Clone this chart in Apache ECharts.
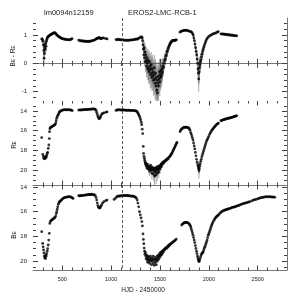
<!DOCTYPE html>
<html><head><meta charset="utf-8">
<script src="https://cdn.jsdelivr.net/npm/echarts@6/dist/echarts.min.js"></script>
<style>html,body{margin:0;padding:0;background:#fff}#c{width:304px;height:304px}</style>
</head><body><div id="c"></div>
<script>
// ---- tick values ----
const xMajor = [500, 1000, 1500, 2000, 2500];
const xMinor = [300,400,600,700,800,900,1100,1200,1300,1400,1600,1700,1800,1900,2100,2200,2300,2400,2600,2700];
const colorMajor = [-1, 0, 1];
const colorMinor = [-1.2,-0.8,-0.6,-0.4,-0.2,0.2,0.4,0.6,0.8,1.2,1.4];
const magMajor = [14, 16, 18, 20];
const redMinor = [13.5,14.5,15,15.5,16.5,17,17.5,18.5,19,19.5,20.5,21];
const blueMinor = [14.5,15,15.5,16.5,17,17.5,18.5,19,19.5,20.5];
const markerHJD = 1111;

// ---- panel 1: B_E - R_E colour  [HJD, colour, error] ----
const colorCurve = [
[289,0.86],[296,0.84,0.08],[302,0.78,0.15],[306,0.65,0.2],[310,0.45,0.25],[313,0.18,0.3],[316,0.35,0.25],[319,0.55,0.2],[322,0.62,0.2],[326,0.5,0.2],[330,0.7,0.15],[334,0.6,0.2],[338,0.78,0.12],[342,0.85,0.1],[347,0.9,0.08],[352,0.93,0.06],[358,0.95],[364,0.97],[370,0.99],[377,1.0],[384,1.02],[391,1.03],[398,1.05],[405,1.06],[412,1.07],[419,1.08],[426,1.07],[433,1.05],[440,1.02],[447,0.99],[454,0.97],[461,0.95],[468,0.93],[476,0.92],[484,0.9],[492,0.88],[500,0.87],[510,0.86],[520,0.85],[530,0.85],[540,0.84],[550,0.84],[560,0.83],[570,0.84],[580,0.83],[590,0.85],[600,0.87],
[668,0.82],[678,0.8],[688,0.79],[698,0.8],[708,0.78],[718,0.79],[728,0.78],[738,0.77],[748,0.78],[758,0.77],[768,0.78],[778,0.77],[788,0.78],[798,0.79],[808,0.8],[818,0.81],[828,0.82],[838,0.84],[846,0.86],[852,0.87],[858,0.88],[864,0.89],[870,0.9],[876,0.91],[882,0.9],[888,0.88],[895,0.87],[903,0.88],[912,0.9],[925,0.89],[945,0.87],[958,0.86],
[1050,0.84],[1060,0.83],[1070,0.85],[1080,0.84],[1090,0.83],[1100,0.84],[1110,0.82],[1120,0.83],[1130,0.82],[1140,0.81],[1150,0.82],[1160,0.81],[1170,0.82],[1180,0.81],[1190,0.82],[1200,0.83],[1210,0.82],[1220,0.83],[1230,0.84],[1240,0.84],[1250,0.85],[1260,0.86],[1270,0.85],[1280,0.88],[1290,0.9],[1300,0.92],[1310,0.93],[1318,0.9,0.08],
[1322,0.8,0.15],[1326,0.65,0.2],[1330,0.5,0.25],[1334,0.3,0.3],[1338,0.55,0.25],[1342,0.2,0.3],[1346,0.4,0.3],[1350,0.05,0.35],[1354,0.3,0.3],[1358,0.1,0.35],[1362,-0.1,0.4],[1366,0.2,0.35],[1370,0.0,0.4],[1374,-0.2,0.4],[1378,0.1,0.4],[1382,-0.15,0.45],[1386,-0.3,0.45],[1390,0.05,0.4],[1394,-0.25,0.45],[1398,-0.1,0.45],[1402,-0.4,0.5],[1406,-0.2,0.45],[1410,-0.05,0.45],[1414,-0.35,0.5],[1418,-0.5,0.5],[1422,-0.2,0.5],[1426,-0.45,0.5],[1430,-0.3,0.5],[1434,-0.6,0.55],[1438,-0.4,0.5],[1442,-0.15,0.45],[1446,-0.55,0.55],[1450,-0.7,0.55],[1454,-0.35,0.5],[1458,-0.8,0.6],[1462,-0.5,0.55],[1466,-0.95,0.6],[1470,-0.6,0.55],[1474,-1.05,0.6],[1478,-0.7,0.55],[1482,-0.45,0.5],[1486,-0.8,0.55],[1490,-0.55,0.5],[1494,-0.3,0.45],[1498,-0.65,0.5],[1502,-0.4,0.45],[1506,-0.5,0.45],[1510,-0.25,0.4],[1514,-0.45,0.4],[1518,-0.35,0.4],[1522,-0.2,0.35],[1526,-0.3,0.35],[1530,-0.1,0.3],[1536,-0.15,0.3],[1542,0.0,0.25],[1548,0.1,0.25],[1554,0.15,0.22],[1560,0.25,0.2],[1566,0.3,0.2],[1572,0.4,0.18],[1578,0.45,0.15],[1584,0.52,0.15],[1590,0.58,0.13],[1596,0.63,0.12],[1602,0.68,0.1],[1608,0.72,0.1],[1614,0.75,0.08],[1620,0.77,0.08],[1626,0.79,0.07],[1632,0.8,0.06],[1638,0.81],[1644,0.8],[1650,0.81],[1656,0.82],[1662,0.82],[1668,0.83],
[1705,1.1],[1715,1.13],[1725,1.14],[1735,1.15],[1745,1.16],[1755,1.16],[1765,1.17],[1775,1.16],[1785,1.15],[1795,1.14],[1805,1.13],[1815,1.12],[1824,1.1],[1832,1.05,0.06],[1840,1.0,0.07],[1846,0.9,0.08],[1852,0.8,0.1],[1858,0.68,0.12],[1864,0.55,0.15],[1870,0.42,0.18],[1875,0.3,0.2],[1880,0.15,0.25],[1885,0.0,0.3],[1889,-0.2,0.35],[1893,-0.35,0.4],[1897,-0.55,0.45],[1901,-0.3,0.4],[1905,-0.15,0.35],[1909,-0.05,0.3],[1914,0.05,0.3],[1919,0.12,0.25],[1925,0.22,0.22],[1931,0.32,0.2],[1937,0.42,0.18],[1943,0.5,0.15],[1950,0.58,0.12],[1957,0.66,0.1],[1964,0.73,0.08],[1971,0.8,0.07],[1980,0.86,0.06],[1990,0.91],[2000,0.95],[2012,0.98],[2025,1.0],[2038,1.03],[2050,1.05],[2063,1.06],[2075,1.08],[2087,1.1],[2097,1.12],
[2124,1.04],[2135,1.03],[2145,1.04],[2155,1.02],[2165,1.03],[2175,1.01],[2185,1.02],[2195,1.0],[2205,1.01],[2215,1.0],[2225,0.99],[2235,1.0],[2245,0.98],[2255,0.99],[2265,0.97],[2275,0.98],[2285,0.97]
];

// ---- panel 2: R_E magnitude [HJD, mag, error] ----
const redCurve = [
[289,16.7],
[300,18.4],[306,18.6],[311,18.8],[315,18.75],[319,18.85],[323,18.7],[327,18.8],[331,18.6],[335,18.7],[340,18.5],[345,18.3],[350,18.2],[356,17.8],[362,17.45],
[367,16.8],[369,16.1],[373,15.8],[378,15.7],[385,15.65],[393,15.6],[401,15.55],[409,15.5],[417,15.45],[425,15.4],[432,15.25],[437,15.0],[442,14.75],[448,14.6],[454,14.45],[460,14.35],[466,14.2],[472,14.1],[478,14.05],[486,14.0],[494,13.95],[503,13.92],[512,13.9],[522,13.88],[532,13.9],[542,13.88],[552,13.9],[562,13.87],[572,13.9],[582,13.9],[592,13.92],[601,13.98],
[668,13.92],[678,13.9],[688,13.92],[698,13.9],[708,13.88],[718,13.9],[728,13.87],[738,13.85],[748,13.88],[758,13.86],[768,13.85],[778,13.83],[788,13.85],[798,13.82],[808,13.8],[818,13.82],[828,13.8],[838,13.85],[846,13.95],[852,14.15],[858,14.35],[864,14.55],[870,14.7],[876,14.8],[882,14.75],[888,14.65],[895,14.5],[903,14.35],[912,14.25],[925,14.2],[945,14.15],[958,14.1],
[1050,13.95],[1060,13.9],[1070,13.92],[1080,13.88],[1090,13.9],[1100,13.92],[1110,13.9],[1120,13.93],[1130,13.9],[1140,13.92],[1150,13.95],[1160,13.93],[1170,13.95],[1180,13.92],[1190,13.95],[1200,13.96],[1210,13.94],[1220,13.97],[1230,13.95],[1240,13.98],[1250,14.0],[1258,14.02],[1265,14.07],[1272,14.2],[1278,14.3],[1284,14.42],[1290,14.55],[1296,14.72],[1302,14.9],[1308,15.15],[1313,15.4],[1318,15.85],[1323,16.3],[1329,17.6],
[1332,18.3],[1336,18.6],[1340,18.8],[1344,19.0],[1348,19.2],[1352,19.4],[1356,19.3],[1360,19.6],[1364,19.5],[1368,19.8],[1372,19.4],[1376,19.7],[1380,19.9],[1384,19.6],[1388,19.8],[1392,20.1,0.5],[1396,19.7],[1400,19.9],[1404,19.5],[1408,20.0,0.4],[1412,19.8],[1416,20.3,0.6],[1420,19.7],[1424,20.0],[1428,19.9],[1432,20.4,0.7],[1436,19.8],[1440,20.1,0.5],[1444,20.6,0.9],[1448,19.9],[1452,20.2,0.6],[1456,19.8],[1460,20.5,0.9],[1464,20.0,0.5],[1468,19.7],[1472,20.3,0.8],[1476,19.9],[1480,20.0,0.5],[1484,19.6],[1488,20.2,0.6],[1492,19.8],[1496,19.6],[1500,19.9,0.4],[1504,19.5],[1508,19.7],[1512,19.4],[1516,19.6],[1520,19.3],[1525,19.4],[1530,19.2],[1536,19.3],[1542,19.1],[1548,19.15],[1554,19.0],[1560,19.05],[1566,18.9],[1572,18.95],[1578,18.8],[1584,18.85],[1590,18.7],[1596,18.65],[1602,18.6],[1608,18.5],[1614,18.4],[1620,18.3],[1626,18.2],[1632,18.05],[1638,17.95],[1644,17.8],[1650,17.7],[1656,17.55],[1662,17.45],[1668,17.3],[1674,17.2],
[1705,16.1],[1712,15.95],[1720,15.85],[1728,15.78],[1736,15.72],[1744,15.68],[1752,15.66],[1760,15.65],[1768,15.65],[1776,15.66],[1784,15.68],[1792,15.72],[1800,15.8],[1807,15.95],[1814,16.2],[1820,16.35],[1826,16.55],[1832,16.75],[1838,16.95],[1844,17.25],[1850,17.55],[1856,17.85],[1862,18.2],[1868,18.55],[1874,18.9],[1880,19.2],[1886,19.45],[1891,19.65,0.3],[1895,19.85,0.5],[1899,20.05,0.8],[1903,19.85,0.5],[1907,19.6],[1912,19.35],[1917,19.1],[1922,18.9],[1928,18.65],[1934,18.45],[1940,18.25],[1946,18.05],[1952,17.85],[1958,17.65],[1964,17.45],[1970,17.25],[1977,17.05],[1984,16.9],[1991,16.75],[1998,16.6],[2006,16.4],[2014,16.25],[2022,16.1],[2030,15.98],[2038,15.87],[2046,15.76],[2054,15.66],[2062,15.57],[2070,15.48],[2080,15.38],[2090,15.3],[2097,15.25],
[2124,15.0],[2132,14.96],[2140,14.93],[2148,14.9],[2156,14.87],[2164,14.85],[2172,14.82],[2180,14.8],[2188,14.78],[2196,14.76],[2204,14.74],[2212,14.72],[2220,14.7],[2228,14.68],[2236,14.66],[2244,14.63],[2252,14.6],[2260,14.57],[2268,14.55],[2276,14.52],[2285,14.5]
];

// ---- panel 3: B_E magnitude [HJD, mag] ----
const blueCurve = [
[289,17.62],[299,18.57],[304,18.85],[308,19.1],[312,19.35],[316,19.6],[320,19.75],[324,19.65],[328,19.8],[332,19.5],[336,19.6],[340,19.4],[345,19.2],[350,19.0],[356,18.7],[361,18.3],[367,17.75],[372,16.95],[378,16.8],[385,16.72],[392,16.68],[400,16.62],[408,16.57],[416,16.52],[424,16.46],[432,16.35],[438,16.15],[443,16.0],[448,15.8],[453,15.6],[459,15.4],[465,15.28],[471,15.2],[477,15.15],[485,15.1],[494,15.02],[503,14.95],[512,14.9],[522,14.85],[532,14.83],[542,14.82],[552,14.8],[562,14.79],[572,14.78],[582,14.8],[592,14.82],[602,14.88],[610,14.92],
[668,14.7],[678,14.72],[688,14.7],[698,14.68],[708,14.7],[718,14.67],[728,14.65],[738,14.66],[748,14.63],[758,14.62],[768,14.6],[778,14.6],[788,14.62],[798,14.58],[808,14.6],[818,14.62],[828,14.63],[838,14.7],[846,14.85],[852,15.05],[858,15.3],[864,15.5],[870,15.62],[876,15.68],[882,15.7],[888,15.66],[895,15.55],[903,15.45],[912,15.3],[925,15.18],[945,15.1],[958,15.05],
[1030,15.0],[1045,14.9],[1058,14.78],[1068,14.75],[1078,14.72],[1088,14.75],[1098,14.7],[1108,14.72],[1118,14.7],[1128,14.68],[1138,14.7],[1148,14.67],[1158,14.7],[1168,14.68],[1178,14.72],[1188,14.7],[1198,14.73],[1208,14.75],[1218,14.72],[1228,14.76],[1238,14.78],[1248,14.82],[1258,14.9],[1266,15.05],[1274,15.3],[1282,15.6],[1290,16.0],[1298,16.25],[1306,16.5],[1314,16.8],[1320,17.15],[1326,17.8],[1330,18.25],[1334,18.6],
[1338,18.95],[1342,19.2],[1346,19.45],[1350,19.3],[1354,19.6],[1358,19.8],[1362,19.5],[1366,19.9],[1370,19.7],[1374,20.1],[1378,19.6],[1382,19.85],[1386,20.0],[1390,19.7],[1394,20.2],[1398,19.9],[1402,19.6],[1406,20.0],[1410,19.8],[1414,20.3],[1418,19.75],[1422,20.05],[1426,19.9],[1430,19.6],[1434,20.2],[1438,19.85],[1442,20.35],[1446,19.95],[1450,19.7],[1454,20.1],[1458,19.8],[1462,20.3],[1466,19.9],[1470,19.6],[1474,20.0],[1478,19.75],[1482,19.55],[1486,19.85],[1490,19.6],[1494,19.4],[1498,19.7],[1502,19.5],[1506,19.3],[1510,19.55],[1514,19.35],[1518,19.45],[1522,19.2],[1526,19.35],[1530,19.15],[1536,19.25],[1542,19.05],[1548,19.1],[1554,18.95],[1560,19.0],[1566,18.9],[1572,18.95],[1578,18.8],[1584,18.85],[1590,18.7],[1596,18.75],[1602,18.65],[1610,18.6],[1618,18.55],[1626,18.5],[1634,18.45],[1642,18.4],[1650,18.35],[1658,18.3],[1666,18.22],
[1722,17.08],[1730,17.0],[1738,16.95],[1746,16.91],[1754,16.88],[1762,16.87],[1770,16.87],[1778,16.88],[1786,16.9],[1794,16.95],[1802,17.02],[1808,17.1],[1814,17.22],[1820,17.38],[1826,17.55],[1832,17.72],[1838,17.9],[1844,18.1],[1850,18.3],[1856,18.5],[1862,18.75],[1868,18.98],[1874,19.2],[1879,19.4],[1884,19.6],[1888,19.75],[1892,19.9],[1896,20.0],[1900,20.05],[1904,19.95],[1910,19.8],[1916,19.65],[1922,19.5],[1928,19.4],[1934,19.35],[1940,19.28],[1946,19.15],[1952,19.0],[1958,18.88],[1964,18.75],[1970,18.6],[1976,18.45],[1982,18.3],[1988,18.1],[1994,17.9],[2000,17.78],[2006,17.65],[2012,17.5],[2018,17.35],[2024,17.2],[2030,17.07],[2036,16.95],[2044,16.82],[2052,16.7],[2060,16.58],[2068,16.5],[2076,16.42],[2084,16.36],[2092,16.3],[2100,16.25],[2110,16.15],[2120,16.08],[2131,16.0],
[2140,15.95],[2150,15.92],[2160,15.88],[2170,15.85],[2180,15.82],[2190,15.8],[2200,15.77],[2210,15.74],[2220,15.72],[2230,15.68],[2240,15.65],[2250,15.63],[2260,15.62],[2270,15.59],[2280,15.56],[2290,15.53],[2300,15.5],[2310,15.48],[2322,15.43],[2334,15.4],[2346,15.36],[2358,15.33],[2370,15.3],[2382,15.28],[2394,15.25],[2406,15.22],[2418,15.19],[2440,15.12],[2455,15.05],[2470,15.02],[2485,15.0],[2500,14.95],[2512,14.92],[2525,14.88],[2538,14.86],[2550,14.84],[2562,14.82],[2575,14.8],[2588,14.79],[2600,14.78],[2612,14.8],[2625,14.78],[2638,14.8],[2650,14.82],[2662,14.8],[2675,14.83]
];

// ---- layout / styles ----
const FONT = 'Liberation Sans';
const lineCol = '#777';
const tickCol = '#444';
const textCol = '#222';
const grids = [
  {left:33, right:17, top:18, height:83},
  {left:33, right:17, top:101, height:84},
  {left:33, right:17, top:185, height:85}
];
const plain = v => String(v);

function xAxesFor(g, labels) {
  const base = {gridIndex:g, type:'value', min:200, max:2800, splitLine:{show:false}};
  const tick = (vals, len) => ({show:true, inside:true, length:len, customValues:vals, lineStyle:{color:tickCol, width:1}});
  return [
    Object.assign({}, base, {position:'bottom', axisLine:{show:true, lineStyle:{color:lineCol, width:1}},
      axisTick:tick(xMajor, 4.5),
      axisLabel:{show:labels, customValues:xMajor, formatter:plain, fontSize:5.5, fontFamily:FONT, color:textCol, margin:6}}),
    Object.assign({}, base, {position:'bottom', axisLine:{show:false}, axisTick:tick(xMinor, 2.5), axisLabel:{show:false}}),
    Object.assign({}, base, {position:'top', axisLine:{show:false}, axisTick:tick(xMajor, 4.5), axisLabel:{show:false}}),
    Object.assign({}, base, {position:'top', axisLine:{show:false}, axisTick:tick(xMinor, 2.5), axisLabel:{show:false}})
  ];
}
function yAxesFor(g, min, max, inverse, major, minor) {
  const base = {gridIndex:g, type:'value', min:min, max:max, inverse:inverse, splitLine:{show:false}};
  const tick = (vals, len) => ({show:true, inside:true, length:len, customValues:vals, lineStyle:{color:tickCol, width:1}});
  return [
    Object.assign({}, base, {position:'left', axisLine:{show:false}, axisTick:tick(major, 5),
      axisLabel:{show:true, customValues:major, formatter:plain, fontSize:6, fontFamily:FONT, color:textCol, margin:6}}),
    Object.assign({}, base, {position:'left', axisLine:{show:false}, axisTick:tick(minor, 3), axisLabel:{show:false}}),
    Object.assign({}, base, {position:'right', axisLine:{show:true, lineStyle:{color:lineCol, width:1}}, axisTick:tick(major, 5), axisLabel:{show:false}}),
    Object.assign({}, base, {position:'right', axisLine:{show:false}, axisTick:tick(minor, 3), axisLabel:{show:false}})
  ];
}

const xAxis = [].concat(xAxesFor(0,false), xAxesFor(1,false), xAxesFor(2,true));
const yAxis = [].concat(
  yAxesFor(0, -1.33, 1.6, false, colorMajor, colorMinor),
  yAxesFor(1, 13, 21.5, true, magMajor, redMinor),
  yAxesFor(2, 13.83, 20.73, true, magMajor, blueMinor)
);

const markLine = {
  silent:true, symbol:['none','none'], label:{show:false},
  lineStyle:{color:'#333', width:0.8, type:[3,2]},
  data:[{xAxis:markerHJD}]
};
function scatter(g, data) {
  return {type:'scatter', xAxisIndex:g*4, yAxisIndex:g*4, data:data.map(d => [d[0], d[1]]),
    symbolSize:2.8, itemStyle:{color:'#000'}, clip:true, markLine:markLine, z:3};
}
function errorBars(g, data) {
  return {type:'custom', xAxisIndex:g*4, yAxisIndex:g*4, clip:true, z:2,
    data:data.filter(d => d.length > 2),
    encode:{x:0, y:1},
    renderItem:function(params, api){
      const x = api.value(0), y = api.value(1), e = api.value(2);
      const p1 = api.coord([x, y - e]), p2 = api.coord([x, y + e]);
      return {type:'line', shape:{x1:p1[0], y1:p1[1], x2:p2[0], y2:p2[1]}, style:{stroke:'#555', lineWidth:0.5}};
    }};
}

const rich = {
  n:{fontSize:6.5, fontFamily:FONT, fill:textCol, color:textCol, lineHeight:7},
  s:{fontSize:4.5, fontFamily:FONT, fill:textCol, color:textCol, lineHeight:4.5, verticalAlign:'bottom'}
};
function yName(text, x, y) {
  return {type:'text', x:x, y:y, rotation:Math.PI/2,
    style:{text:text, rich:rich, align:'center', verticalAlign:'middle', fill:textCol, fontSize:6.5, fontFamily:FONT}};
}

const option = {
  animation:false,
  backgroundColor:'#fff',
  grid:grids,
  xAxis:xAxis,
  yAxis:yAxis,
  series:[
    errorBars(0, colorCurve), scatter(0, colorCurve),
    errorBars(1, redCurve), scatter(1, redCurve),
    scatter(2, blueCurve)
  ],
  graphic:[
    {type:'text', x:44, y:13, style:{text:'lm0094n12159', fontSize:7.5, fontFamily:FONT, fill:textCol, align:'left', verticalAlign:'middle'}},
    {type:'text', x:128, y:13, style:{text:'EROS2-LMC-RCB-1', fontSize:7.5, fontFamily:FONT, fill:textCol, align:'left', verticalAlign:'middle'}},
    {type:'text', x:143, y:290, style:{text:'HJD - 2450000', fontSize:6.5, fontFamily:FONT, fill:textCol, align:'center', verticalAlign:'middle'}},
    yName('{n|B}{s|E}{n| - R}{s|E}', 13, 56),
    yName('{n|R}{s|E}', 14, 145),
    yName('{n|B}{s|E}', 14, 235)
  ]
};
const chart = echarts.init(document.getElementById('c'));
chart.setOption(option);
</script>
</body></html>
